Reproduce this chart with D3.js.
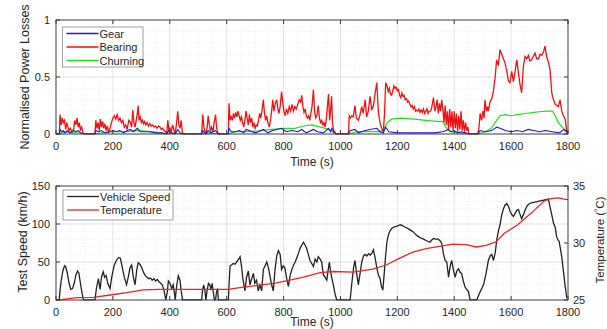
<!DOCTYPE html>
<html><head><meta charset="utf-8">
<script src="https://cdn.jsdelivr.net/npm/d3@7"></script>
<style>
html,body{margin:0;padding:0;background:#fff;}
svg{display:block;font-family:"Liberation Sans",Arial,sans-serif;}
</style></head>
<body><svg id="c" width="607" height="329"></svg>
<script>
// ---------- DATA ----------
const xTicks = [0,200,400,600,800,1000,1200,1400,1600,1800];
const topYTicks = [0,0.5,1];
const topYTickLabels = ["0","0.5","1"];
const botYTicks = [0,50,100,150];
const tempTicks = [25,30,35];
const topSeriesNames = ["Gear","Bearing","Churning"];
const botSeriesNames = ["Vehicle Speed","Temperature"];

// Bearing power loss [time s, normalised]
const bearing = [[0,0],[12,0],[14,0.17],[18,0.08],[22,0.14],[26,0.1],[30,0.12],[34,0.04],[38,0.1],[42,0.06],[46,0.03],[50,0.05],[56,0.02],[62,0.04],[66,0.12],[70,0.08],[74,0.14],[78,0.06],[82,0.1],[86,0.03],[90,0.06],[94,0.02],[97,0],
[137,0],[140,0.12],[144,0.05],[148,0.1],[152,0.03],[156,0.13],[160,0.06],[164,0.11],[168,0.05],[172,0.09],[176,0.03],[180,0.07],[185,0.02],[190,0.05],[195,0.1],[200,0.14],[205,0.16],[210,0.13],[215,0.17],[220,0.12],[225,0.14],[230,0.1],[235,0.12],[240,0.06],[245,0.08],[250,0.04],[256,0.12],[262,0.1],[266,0.06],[270,0.21],[274,0.1],[278,0.06],[282,0.12],[286,0.18],[289,0.25],[292,0.12],[296,0.15],[300,0.1],[304,0.12],[308,0.09],[312,0.11],[316,0.08],[320,0.1],[325,0.07],[330,0.09],[335,0.07],[340,0.08],[345,0.06],[350,0.07],[355,0.05],[360,0.07],[366,0.06],[370,0.04],[375,0.05],[380,0.03],[385,0.02],[389,0],[393,0.12],[397,0.03],[401,0.05],[405,0.02],[410,0.08],[415,0.03],[419,0],[424,0.1],[428,0.2],[432,0.08],[436,0.05],[440,0.12],[445,0],
[512,0],[516,0.17],[520,0.06],[524,0.02],[527,0],[531,0.05],[535,0.16],[539,0.08],[543,0.03],[547,0.06],[552,0.02],[556,0.1],[561,0.17],[565,0.05],[568,0.02],[571,0],
[606,0],[608,0.27],[612,0.12],[616,0.15],[620,0.12],[624,0.18],[628,0.14],[632,0.19],[636,0.15],[640,0.2],[644,0.16],[648,0.12],[652,0.15],[656,0.1],[660,0.06],[664,0.12],[668,0.2],[672,0.14],[676,0.08],[680,0.17],[684,0.1],[688,0.14],[692,0.06],[696,0.1],[700,0.05],[704,0.08],[708,0.07],[712,0.12],[716,0.18],[720,0.14],[724,0.2],[729,0.3],[733,0.18],[737,0.12],[741,0.16],[745,0.1],[750,0.06],[754,0.12],[758,0.2],[762,0.3],[766,0.2],[770,0.26],[776,0.3],[780,0.22],[784,0.18],[788,0.24],[793,0.37],[797,0.28],[801,0.2],[806,0.16],[810,0.22],[815,0.18],[820,0.24],[825,0.2],[830,0.26],[835,0.2],[840,0.24],[845,0.22],[850,0.26],[855,0.3],[860,0.28],[864,0.34],[868,0.24],[872,0.19],[876,0.22],[880,0.16],[884,0.14],[888,0.16],[892,0.12],[896,0.18],[900,0.24],[905,0.39],[909,0.2],[913,0.14],[917,0.16],[922,0.25],[926,0.14],[930,0.1],[934,0.12],[938,0.08],[942,0.1],[946,0.06],[950,0.12],[958,0.35],[962,0.12],[965,0.2],[969,0.33],[972,0.1],[976,0.03],[980,0.02],[985,0],
[1028,0],[1031,0.16],[1035,0.14],[1040,0.16],[1045,0.15],[1051,0.25],[1056,0.14],[1063,0.12],[1068,0.16],[1075,0.24],[1080,0.18],[1087,0.3],[1092,0.15],[1098,0.2],[1104,0.33],[1110,0.21],[1116,0.25],[1122,0.36],[1128,0.45],[1133,0.2],[1139,0.1],[1145,0.05],[1151,0.02],
[1155,0.18],[1159,0.45],[1164,0.42],[1168,0.37],[1172,0.4],[1176,0.35],[1180,0.34],[1184,0.38],[1188,0.42],[1192,0.4],[1196,0.41],[1200,0.38],[1204,0.39],[1208,0.34],[1212,0.32],[1216,0.36],[1220,0.33],[1224,0.34],[1228,0.3],[1232,0.31],[1236,0.28],[1240,0.29],[1244,0.26],[1248,0.24],[1252,0.25],[1256,0.22],[1260,0.24],[1264,0.2],[1268,0.21],[1272,0.2],[1276,0.22],[1280,0.19],[1284,0.21],[1288,0.19],[1292,0.22],[1296,0.18],[1300,0.2],[1304,0.22],[1308,0.18],[1312,0.2],[1316,0.2],[1320,0.22],[1327,0.32],[1332,0.2],[1336,0.24],[1340,0.3],[1344,0.18],[1348,0.27],[1352,0.2],[1356,0.3],[1360,0.22],[1364,0.1],[1368,0.25],[1372,0.08],[1376,0.2],[1380,0.04],[1384,0.22],[1388,0.06],[1392,0.2],[1396,0.03],[1400,0.2],[1404,0.05],[1408,0.18],[1412,0.02],[1416,0.16],[1420,0.04],[1424,0.2],[1428,0.03],[1432,0.12],[1436,0.02],[1440,0.1],[1444,0.03],[1448,0.06],[1451,0],
[1483,0],[1487,0.06],[1491,0.18],[1496,0.12],[1501,0.2],[1505,0.14],[1508,0.3],[1513,0.2],[1517,0.24],[1520,0.2],[1526,0.28],[1532,0.31],[1538,0.38],[1544,0.5],[1549,0.65],[1555,0.6],[1561,0.74],[1567,0.7],[1573,0.66],[1579,0.62],[1585,0.55],[1590,0.47],[1596,0.45],[1602,0.55],[1608,0.46],[1614,0.55],[1620,0.65],[1625,0.55],[1631,0.44],[1637,0.36],[1643,0.59],[1649,0.68],[1655,0.66],[1661,0.69],[1666,0.64],[1672,0.65],[1678,0.68],[1684,0.71],[1690,0.66],[1696,0.66],[1702,0.7],[1708,0.69],[1714,0.72],[1719,0.77],[1725,0.68],[1731,0.63],[1737,0.56],[1743,0.36],[1749,0.3],[1755,0.26],[1761,0.25],[1766,0.24],[1772,0.3],[1778,0.2],[1784,0.16],[1790,0.13],[1796,0.02],[1800,0]];

// Gear power loss
const gear = [[0,0],[12,0],[14,0.04],[20,0.02],[26,0.03],[32,0.01],[40,0.03],[48,0.01],[56,0.02],[64,0.03],[70,0.02],[78,0.03],[86,0.01],[96,0],
[137,0],[140,0.03],[150,0.02],[160,0.03],[172,0.01],[186,0.02],[200,0.03],[212,0.02],[224,0.03],[238,0.01],[250,0.03],[262,0.04],[272,0.02],[286,0.05],[296,0.02],[310,0.02],[330,0.02],[350,0.01],[370,0.01],[389,0],[395,0.03],[405,0.01],[419,0],[428,0.04],[436,0.01],[445,0],
[512,0],[516,0.03],[527,0],[535,0.03],[545,0.01],[560,0.03],[571,0],
[606,0],[608,0.05],[616,0.02],[630,0.02],[645,0.03],[660,0.01],[668,0.04],[680,0.03],[690,0.02],[700,0.01],[712,0.02],[729,0.04],[745,0.01],[762,0.03],[776,0.04],[793,0.05],[810,0.02],[830,0.03],[850,0.02],[864,0.04],[880,0.01],[905,0.04],[920,0.02],[940,0.01],[958,0.05],[965,0.02],[970,0.05],[978,0.01],[985,0],
[1028,0],[1035,0.03],[1051,0.04],[1063,0.01],[1087,0.03],[1104,0.04],[1128,0.05],[1139,0.02],[1151,0.01],[1159,0.06],[1170,0.02],[1200,0.01],[1260,0.01],[1330,0.01],[1360,0.02],[1380,0.04],[1388,0.02],[1400,0.03],[1412,0.01],[1424,0.02],[1440,0.01],[1451,0],
[1483,0],[1491,0.03],[1510,0.02],[1532,0.03],[1549,0.06],[1561,0.05],[1580,0.03],[1600,0.02],[1620,0.03],[1640,0.02],[1660,0.04],[1680,0.03],[1700,0.02],[1720,0.03],[1745,0.02],[1770,0.01],[1785,0.04],[1796,0.02],[1800,0]];

// Churning power loss
const churning = [[0,0],[12,0],[20,0.01],[40,0.02],[60,0.01],[80,0.02],[96,0],
[137,0],[160,0.01],[200,0.02],[250,0.02],[290,0.03],[330,0.02],[370,0.01],[389,0],[400,0.01],[445,0],
[512,0],[540,0.01],[571,0],
[606,0],[630,0.02],[680,0.02],[720,0.03],[760,0.04],[800,0.05],[840,0.05],[870,0.07],[900,0.08],[930,0.06],[960,0.04],[985,0],
[1028,0],[1060,0.02],[1100,0.02],[1140,0.02],[1155,0.05],[1165,0.1],[1180,0.13],[1210,0.14],[1260,0.13],[1300,0.12],[1340,0.11],[1360,0.11],[1370,0.06],[1385,0.02],[1420,0.01],[1451,0],
[1483,0],[1510,0.02],[1530,0.05],[1549,0.12],[1561,0.16],[1580,0.17],[1600,0.16],[1620,0.17],[1650,0.18],[1680,0.19],[1700,0.195],[1725,0.2],[1745,0.2],[1755,0.16],[1766,0.1],[1780,0.06],[1796,0.02],[1800,0]];

// Vehicle speed [s, km/h]
const speed = [[0,0],[11,0],[14,12],[18,25],[24,38],[30,45],[34,44],[40,35],[46,22],[52,14],[58,15],[64,22],[70,33],[76,38],[80,36],[86,22],[92,8],[96,0],
[137,0],[142,15],[149,28],[155,14],[160,30],[166,37],[171,30],[176,32],[182,22],[190,15],[196,30],[204,45],[212,52],[220,56],[226,55],[232,45],[240,30],[248,20],[254,30],[260,42],[266,46],[272,30],[278,20],[284,40],[289,49],[295,47],[302,42],[308,36],[314,32],[320,30],[326,28],[332,29],[338,26],[344,28],[350,25],[356,27],[362,24],[368,22],[374,20],[380,12],[386,0],
[391,10],[395,25],[401,22],[407,15],[412,20],[416,10],[419,0],[424,18],[430,32],[436,26],[440,12],[445,0],
[512,0],[515,12],[519,20],[523,14],[527,0],[531,12],[536,22],[541,20],[545,13],[549,22],[553,10],[557,0],[561,0],[564,10],[568,15],[571,0],
[606,0],[609,25],[612,45],[617,46],[623,48],[629,47],[635,50],[641,53],[647,57],[652,45],[657,28],[664,12],[670,30],[676,38],[682,20],[688,28],[694,35],[699,22],[705,26],[711,12],[717,20],[723,12],[729,40],[735,45],[741,50],[747,42],[753,30],[758,20],[764,12],[770,40],[776,58],[782,65],[788,60],[793,40],[799,45],[805,42],[811,28],[817,18],[823,32],[829,40],[835,46],[841,50],[847,56],[853,62],[858,68],[864,72],[870,76],[876,72],[881,68],[887,60],[893,52],[899,48],[905,44],[911,54],[917,50],[922,57],[928,54],[934,50],[940,33],[946,30],[952,26],[957,40],[961,50],[965,38],[969,30],[975,20],[981,8],[987,0],
[1034,0],[1040,22],[1046,42],[1051,52],[1057,35],[1063,20],[1069,35],[1075,50],[1081,58],[1087,60],[1093,58],[1099,61],[1105,59],[1111,62],[1116,66],[1122,55],[1128,42],[1134,32],[1139,29],[1144,18],[1149,13],[1154,35],[1158,55],[1163,75],[1168,85],[1174,91],[1180,94],[1188,96],[1196,97],[1203,98],[1210,99],[1218,98],[1226,96],[1233,95],[1242,93],[1251,91],[1260,88],[1268,85],[1280,82],[1292,80],[1303,78],[1315,76],[1321,79],[1327,81],[1335,80],[1344,80],[1350,78],[1356,75],[1362,61],[1368,52],[1374,50],[1380,30],[1386,45],[1391,52],[1397,40],[1403,30],[1409,38],[1415,41],[1421,36],[1426,35],[1432,25],[1438,17],[1444,14],[1450,11],[1456,0],
[1479,0],[1490,10],[1503,20],[1512,35],[1520,52],[1526,58],[1532,60],[1538,52],[1544,62],[1550,80],[1556,92],[1561,99],[1567,112],[1573,120],[1579,125],[1585,127],[1591,123],[1597,116],[1603,112],[1608,110],[1614,114],[1620,118],[1626,119],[1632,112],[1637,107],[1643,112],[1649,118],[1655,123],[1661,126],[1667,127],[1673,128],[1678,128],[1684,129],[1690,129],[1696,130],[1702,130],[1708,131],[1714,131],[1720,132],[1725,132],[1731,133],[1737,122],[1743,112],[1749,101],[1755,96],[1760,83],[1765,79],[1769,77],[1774,66],[1778,57],[1784,38],[1790,18],[1796,2]];

// Temperature [s, °C]
const temperature = [[0,25],[13,25],[40,25.1],[73,25.2],[131,25.23],[190,25.44],[249,25.64],[307,25.88],[366,25.94],[448,25.94],[506,25.94],[606,25.94],[646,26.08],[717,26.3],[776,26.5],[834,26.8],[870,27.0],[928,27.4],[975,27.5],[1045,27.45],[1113,27.7],[1161,28.07],[1207,28.65],[1254,29.2],[1301,29.5],[1348,29.7],[1395,29.9],[1442,29.85],[1477,29.65],[1512,29.8],[1547,30.1],[1576,30.85],[1623,31.6],[1670,32.6],[1717,33.7],[1740,33.9],[1765,33.95],[1787,33.85],[1800,33.8]];

// ---------- DRAWING ----------
const svg = d3.select("#c");
const L = 56, R = 568;
const plots = [{top:20,bottom:134},{top:186,bottom:300}];
const x = d3.scaleLinear().domain([0,1800]).range([L,R]);
const yTop = d3.scaleLinear().domain([0,1]).range([plots[0].bottom,plots[0].top]);
const yBot = d3.scaleLinear().domain([0,150]).range([plots[1].bottom,plots[1].top]);
const yTemp = d3.scaleLinear().domain([25,35]).range([plots[1].bottom,plots[1].top]);

const textCol = "#262626", axisCol = "#3a3a3a";
const fs = 11;

const defs = svg.append("defs");
plots.forEach((p,i)=>{
  defs.append("clipPath").attr("id","clip"+i).append("rect")
    .attr("x",L).attr("y",p.top-1).attr("width",R-L).attr("height",p.bottom-p.top+1.5);
});

function grid(p, yScale, yMajor, yMinorStep, yDomain){
  const g = svg.append("g");
  d3.range(0,1801,50).filter(v=>v%200!==0).forEach(v=>{
    g.append("line").attr("x1",x(v)).attr("x2",x(v)).attr("y1",p.top).attr("y2",p.bottom)
      .attr("stroke","#e4e4e4").attr("stroke-width",0.7).attr("stroke-dasharray","1,2");
  });
  d3.range(yDomain[0],yDomain[1]+1e-9,yMinorStep).forEach(v=>{
    g.append("line").attr("x1",L).attr("x2",R).attr("y1",yScale(v)).attr("y2",yScale(v))
      .attr("stroke","#e4e4e4").attr("stroke-width",0.7).attr("stroke-dasharray","1,2");
  });
  xTicks.forEach(v=>{
    g.append("line").attr("x1",x(v)).attr("x2",x(v)).attr("y1",p.top).attr("y2",p.bottom)
      .attr("stroke","#dcdcdc").attr("stroke-width",0.8);
  });
  yMajor.forEach(v=>{
    g.append("line").attr("x1",L).attr("x2",R).attr("y1",yScale(v)).attr("y2",yScale(v))
      .attr("stroke","#dcdcdc").attr("stroke-width",0.8);
  });
}
grid(plots[0], yTop, topYTicks, 0.1, [0,1]);
grid(plots[1], yBot, botYTicks, 10, [0,150]);

const line = (ys)=>d3.line().x(d=>x(d[0])).y(d=>ys(d[1]));

const gTop = svg.append("g").attr("clip-path","url(#clip0)");
gTop.append("path").datum(churning).attr("d",line(yTop)).attr("fill","none").attr("stroke","#22dd22").attr("stroke-width",1.2);
gTop.append("path").datum(bearing).attr("d",line(yTop)).attr("fill","none").attr("stroke","#ee1111").attr("stroke-width",1.3);
gTop.append("path").datum(gear).attr("d",line(yTop)).attr("fill","none").attr("stroke","#1a1acc").attr("stroke-width",1.1);

const gBot = svg.append("g").attr("clip-path","url(#clip1)");
gBot.append("path").datum(speed).attr("d",line(yBot)).attr("fill","none").attr("stroke","#222").attr("stroke-width",1.3);
gBot.append("path").datum(temperature).attr("d",line(yTemp)).attr("fill","none").attr("stroke","#e8242a").attr("stroke-width",1.3);

function frame(p, yScale, yTicks, yLabels, rightTicks){
  const g = svg.append("g");
  g.append("rect").attr("x",L).attr("y",p.top).attr("width",R-L).attr("height",p.bottom-p.top)
    .attr("fill","none").attr("stroke",axisCol).attr("stroke-width",0.9);
  xTicks.forEach(v=>{
    g.append("line").attr("x1",x(v)).attr("x2",x(v)).attr("y1",p.bottom).attr("y2",p.bottom-4).attr("stroke",axisCol);
    g.append("line").attr("x1",x(v)).attr("x2",x(v)).attr("y1",p.top).attr("y2",p.top+4).attr("stroke",axisCol);
    g.append("text").attr("x",x(v)).attr("y",p.bottom+16).attr("text-anchor","middle")
      .attr("font-size",fs).attr("fill",textCol).text(v);
  });
  yTicks.forEach((v,i)=>{
    g.append("line").attr("x1",L).attr("x2",L+4).attr("y1",yScale(v)).attr("y2",yScale(v)).attr("stroke",axisCol);
    if(!rightTicks) g.append("line").attr("x1",R).attr("x2",R-4).attr("y1",yScale(v)).attr("y2",yScale(v)).attr("stroke",axisCol);
    g.append("text").attr("x",L-6).attr("y",yScale(v)+4).attr("text-anchor","end")
      .attr("font-size",fs).attr("fill",textCol).text(yLabels[i]);
  });
  if(rightTicks){
    rightTicks.forEach(v=>{
      g.append("line").attr("x1",R).attr("x2",R-4).attr("y1",yTemp(v)).attr("y2",yTemp(v)).attr("stroke",axisCol);
      g.append("text").attr("x",R+5).attr("y",yTemp(v)+4).attr("text-anchor","start")
        .attr("font-size",fs).attr("fill",textCol).text(v);
    });
  }
}
frame(plots[0], yTop, topYTicks, topYTickLabels, null);
frame(plots[1], yBot, botYTicks, botYTicks.map(String), tempTicks);

svg.append("text").attr("x",(L+R)/2).attr("y",166).attr("text-anchor","middle").attr("font-size",12).attr("fill",textCol).text("Time (s)");
svg.append("text").attr("x",(L+R)/2).attr("y",325.5).attr("text-anchor","middle").attr("font-size",12).attr("fill",textCol).text("Time (s)");
svg.append("text").attr("transform","translate(29,77) rotate(-90)").attr("text-anchor","middle").attr("font-size",12.5).attr("fill",textCol).text("Normalised Power Losses");
svg.append("text").attr("transform","translate(27,242) rotate(-90)").attr("text-anchor","middle").attr("font-size",12.5).attr("fill",textCol).text("Test Speed (km/h)");
const tl = svg.append("text").attr("transform","translate(604,240) rotate(-90)").attr("text-anchor","middle").attr("font-size",11.5).attr("fill",textCol);
tl.append("tspan").text("Temperature (");
tl.append("tspan").attr("font-size",8).attr("dy",-4).text("°");
tl.append("tspan").attr("dy",4).text("C)");

function legend(x0,y0,w,h,items){
  const g = svg.append("g");
  g.append("rect").attr("x",x0).attr("y",y0).attr("width",w).attr("height",h).attr("fill","#fff").attr("stroke","#8a8a8a").attr("stroke-width",0.8);
  items.forEach((it,i)=>{
    const yy = y0 + 6.5 + i*13.5;
    g.append("line").attr("x1",x0+4).attr("x2",x0+36).attr("y1",yy).attr("y2",yy).attr("stroke",it.c).attr("stroke-width",1.3);
    g.append("text").attr("x",x0+37).attr("y",yy+4).attr("font-size",fs).attr("fill",textCol).text(it.n);
  });
}
legend(62.5,27,80.5,40,[{n:topSeriesNames[0],c:"#1a1acc"},{n:topSeriesNames[1],c:"#ee1111"},{n:topSeriesNames[2],c:"#22dd22"}]);
legend(63,190,110,30,[{n:botSeriesNames[0],c:"#222"},{n:botSeriesNames[1],c:"#e8242a"}]);
</script></body></html>
